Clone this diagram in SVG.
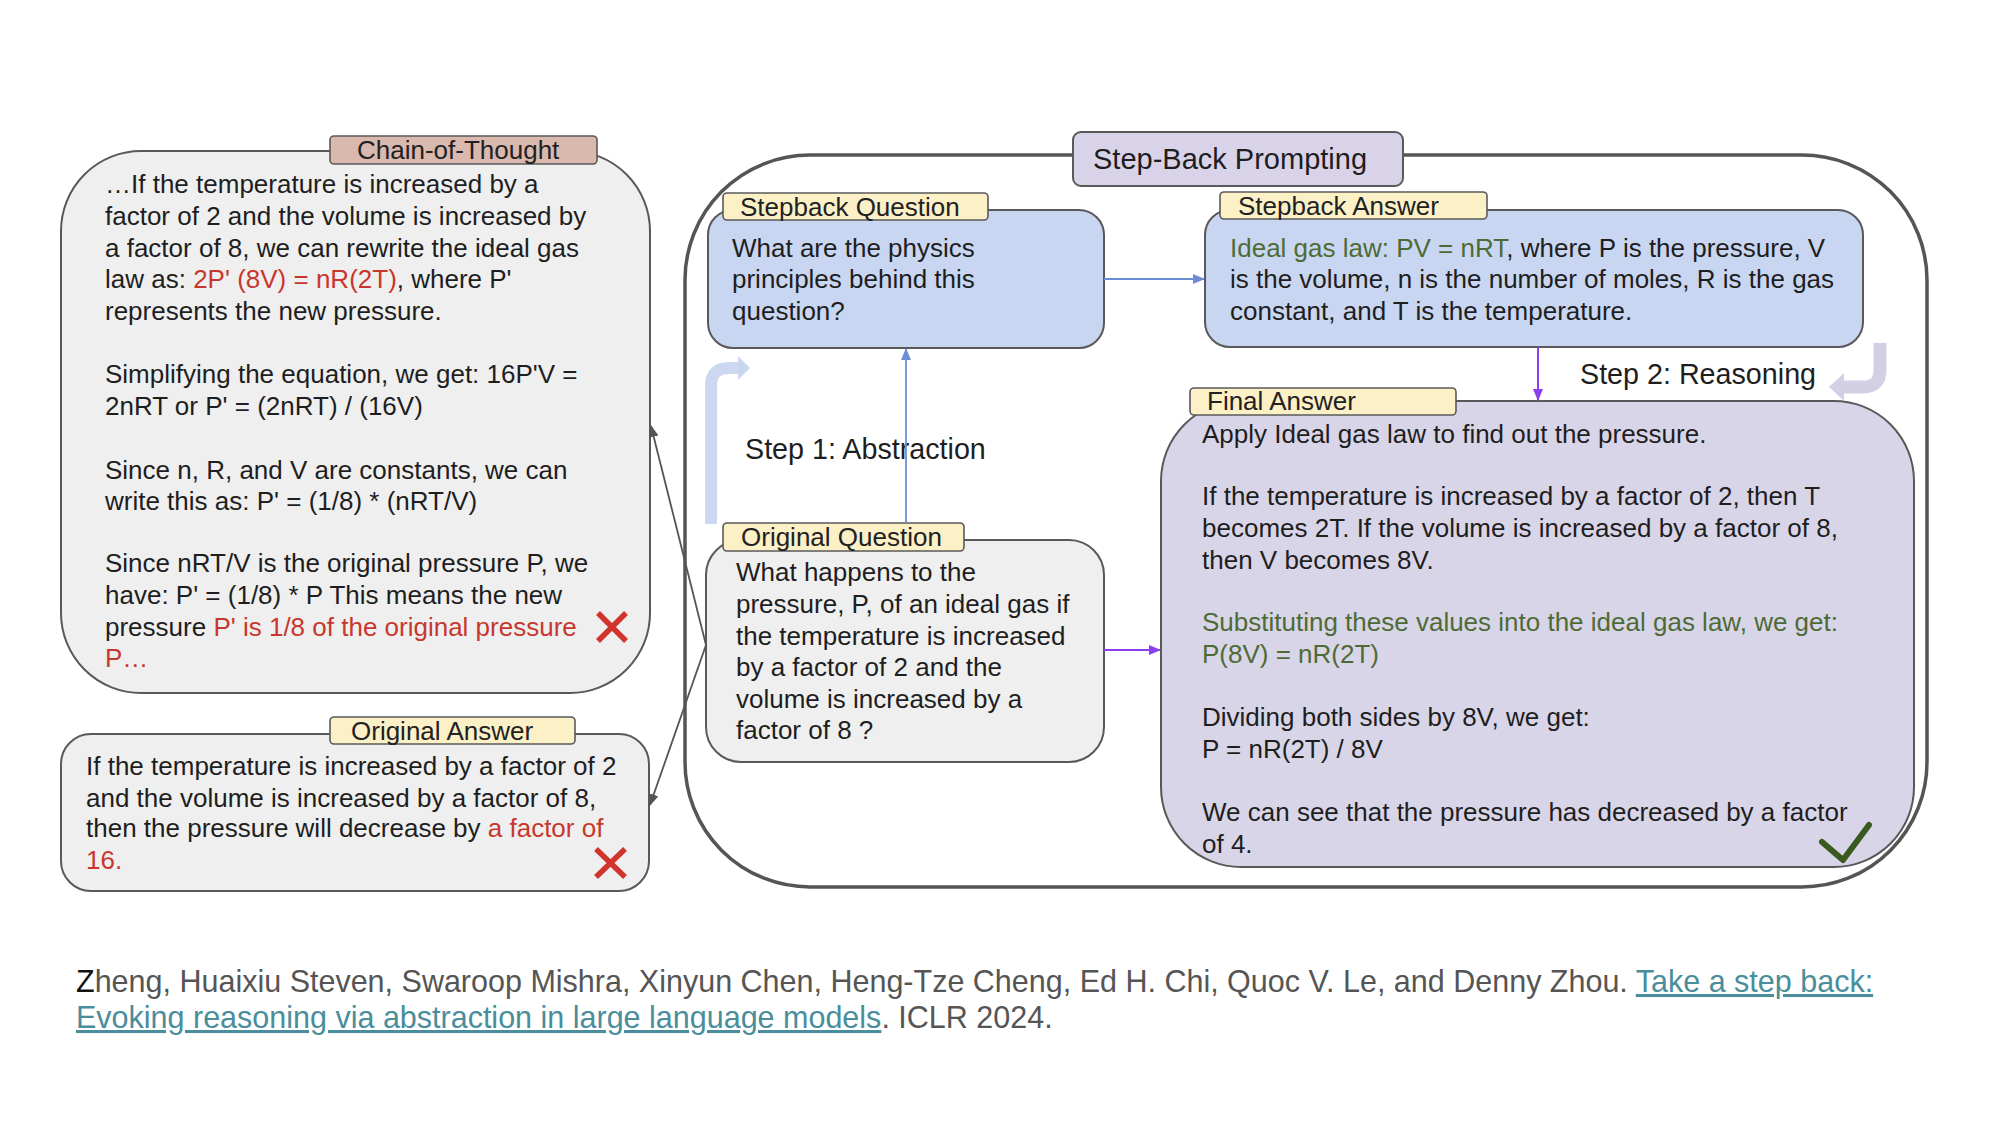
<svg xmlns="http://www.w3.org/2000/svg" width="2000" height="1125" viewBox="0 0 2000 1125">
<style>
text{font-family:"Liberation Sans",Arial,sans-serif;fill:#1e1e1e}
.b{font-size:26px}
.t{font-size:26px;fill:#222}
.s{font-size:28.7px}
.f{font-size:30.5px;fill:#555}
.red{fill:#c8372d}
.grn{fill:#4e6b35}
.lnk{fill:#4a8d9b;text-decoration:underline}
.box{stroke:#595959;stroke-width:2}
.tag{fill:#fcf0c7;stroke:#595959;stroke-width:1.6}
</style>
<defs>
<marker id="mb" markerUnits="userSpaceOnUse" markerWidth="12" markerHeight="10" refX="11" refY="5" orient="auto"><path d="M0,0 L12,5 L0,10 z" fill="#6d8ed4"/></marker>
<marker id="mp" markerUnits="userSpaceOnUse" markerWidth="12" markerHeight="10" refX="11" refY="5" orient="auto"><path d="M0,0 L12,5 L0,10 z" fill="#8b3ff0"/></marker>
<marker id="mg" markerUnits="userSpaceOnUse" markerWidth="12" markerHeight="10" refX="11" refY="5" orient="auto"><path d="M0,0 L12,5 L0,10 z" fill="#555"/></marker>
</defs>
<rect width="2000" height="1125" fill="#fff"/>

<g id="stepback-frame">
<rect x="685" y="155" width="1242" height="732" rx="125" fill="none" stroke="#555" stroke-width="3.5"/>
<rect x="1073" y="132" width="330" height="54" rx="8" fill="#d9d3e9" stroke="#595959" stroke-width="2"/>
<text x="1093" y="169" style="font-size:29px">Step-Back Prompting</text>
</g>

<g id="cot">
<rect class="box" x="61" y="151" width="589" height="542" rx="80" fill="#efefef"/>
<rect x="330" y="136" width="267" height="28" rx="4" fill="#d9b9ae" stroke="#595959" stroke-width="1.6"/>
<text class="t" x="357" y="159">Chain-of-Thought</text>
<text class="b" x="105" y="193">…If the temperature is increased by a</text>
<text class="b" x="105" y="225">factor of 2 and the volume is increased by</text>
<text class="b" x="105" y="257">a factor of 8, we can rewrite the ideal gas</text>
<text class="b" x="105" y="288">law as: <tspan class="red">2P' (8V) = nR(2T)</tspan>, where P'</text>
<text class="b" x="105" y="320">represents the new pressure.</text>
<text class="b" x="105" y="383">Simplifying the equation, we get: 16P'V =</text>
<text class="b" x="105" y="415">2nRT or P' = (2nRT) / (16V)</text>
<text class="b" x="105" y="479">Since n, R, and V are constants, we can</text>
<text class="b" x="105" y="510">write this as: P' = (1/8) * (nRT/V)</text>
<text class="b" x="105" y="572">Since nRT/V is the original pressure P, we</text>
<text class="b" x="105" y="604">have: P' = (1/8) * P This means the new</text>
<text class="b" x="105" y="636">pressure <tspan class="red">P' is 1/8 of the original pressure</tspan></text>
<text class="b red" x="105" y="667">P…</text>
<path d="M598,613 L626,641 M626,613 L598,641" stroke="#d0342c" stroke-width="5.5" fill="none"/>
</g>

<g id="original-answer">
<rect class="box" x="61" y="734" width="588" height="157" rx="30" fill="#efefef"/>
<rect class="tag" x="330" y="717" width="245" height="27" rx="4"/>
<text class="t" x="351" y="740">Original Answer</text>
<text class="b" x="86" y="775">If the temperature is increased by a factor of 2</text>
<text class="b" x="86" y="807">and the volume is increased by a factor of 8,</text>
<text class="b" x="86" y="837">then the pressure will decrease by <tspan class="red">a factor of</tspan></text>
<text class="b red" x="86" y="869">16.</text>
<path d="M596,849 L625,877 M625,849 L596,877" stroke="#d0342c" stroke-width="5.5" fill="none"/>
</g>

<g id="stepback-question">
<rect class="box" x="708" y="210" width="396" height="138" rx="25" fill="#c9d6f1"/>
<rect class="tag" x="723" y="193" width="265" height="27" rx="4"/>
<text class="t" x="740" y="216">Stepback Question</text>
<text class="b" x="732" y="257">What are the physics</text>
<text class="b" x="732" y="288">principles behind this</text>
<text class="b" x="732" y="320">question?</text>
</g>

<g id="stepback-answer">
<rect class="box" x="1205" y="210" width="658" height="137" rx="25" fill="#c9d6f1"/>
<rect class="tag" x="1220" y="192" width="267" height="27" rx="4"/>
<text class="t" x="1238" y="215">Stepback Answer</text>
<text class="b" x="1230" y="257"><tspan class="grn">Ideal gas law: PV = nRT</tspan>, where P is the pressure, V</text>
<text class="b" x="1230" y="288">is the volume, n is the number of moles, R is the gas</text>
<text class="b" x="1230" y="320">constant, and T is the temperature.</text>
</g>

<g id="original-question">
<rect class="box" x="706" y="540" width="398" height="222" rx="35" fill="#efefef"/>
<rect class="tag" x="723" y="523" width="241" height="28" rx="4"/>
<text class="t" x="741" y="546">Original Question</text>
<text class="b" x="736" y="581">What happens to the</text>
<text class="b" x="736" y="613">pressure, P, of an ideal gas if</text>
<text class="b" x="736" y="645">the temperature is increased</text>
<text class="b" x="736" y="676">by a factor of 2 and the</text>
<text class="b" x="736" y="708">volume is increased by a</text>
<text class="b" x="736" y="739">factor of 8 ?</text>
</g>

<g id="final-answer">
<rect class="box" x="1161" y="401" width="753" height="466" rx="80" fill="#d9d5e8"/>
<rect class="tag" x="1190" y="388" width="266" height="27" rx="4"/>
<text class="t" x="1207" y="410">Final Answer</text>
<text class="b" x="1202" y="443">Apply Ideal gas law to find out the pressure.</text>
<text class="b" x="1202" y="505">If the temperature is increased by a factor of 2, then T</text>
<text class="b" x="1202" y="537">becomes 2T. If the volume is increased by a factor of 8,</text>
<text class="b" x="1202" y="569">then V becomes 8V.</text>
<text class="b grn" x="1202" y="631">Substituting these values into the ideal gas law, we get:</text>
<text class="b grn" x="1202" y="663">P(8V) = nR(2T)</text>
<text class="b" x="1202" y="726">Dividing both sides by 8V, we get:</text>
<text class="b" x="1202" y="758">P = nR(2T) / 8V</text>
<text class="b" x="1202" y="821">We can see that the pressure has decreased by a factor</text>
<text class="b" x="1202" y="853">of 4.</text>
<polyline points="1822,842 1843,860 1869,825" fill="none" stroke="#3b5a1f" stroke-width="6" stroke-linecap="round" stroke-linejoin="round"/>
</g>

<g id="step-labels">
<text class="s" x="745" y="459">Step 1: Abstraction</text>
<text class="s" x="1580" y="384">Step 2: Reasoning</text>
</g>

<g id="connectors" fill="none">
<path d="M711,524 L711,386 Q711,368 729,368 L739,368" stroke="#c9d6f1" stroke-width="12" opacity="0.95"/>
<path d="M738,356 L750,368 L738,380 z" fill="#c9d6f1" stroke="none"/>
<path d="M1880,343 L1880,370 Q1880,387 1863,387 L1844,387" stroke="#d3d0e6" stroke-width="13"/>
<path d="M1844,373 L1829,387 L1844,401 z" fill="#d3d0e6" stroke="none"/>
<line x1="906" y1="523" x2="906" y2="349" stroke="#6d8ed4" stroke-width="1.8" marker-end="url(#mb)"/>
<line x1="1104" y1="279" x2="1204" y2="279" stroke="#6d8ed4" stroke-width="1.8" marker-end="url(#mb)"/>
<line x1="1104" y1="650" x2="1160" y2="650" stroke="#8b3ff0" stroke-width="2" marker-end="url(#mp)"/>
<line x1="1538" y1="347" x2="1538" y2="400" stroke="#8b3ff0" stroke-width="2" marker-end="url(#mp)"/>
<line x1="706" y1="645" x2="651" y2="426" stroke="#555" stroke-width="1.8" marker-end="url(#mg)"/>
<line x1="706" y1="645" x2="650" y2="805" stroke="#555" stroke-width="1.8" marker-end="url(#mg)"/>
</g>

<g id="citation">
<text class="f" x="76" y="992"><tspan style="fill:#111">Z</tspan>heng, Huaixiu Steven, Swaroop Mishra, Xinyun Chen, Heng-Tze Cheng, Ed H. Chi, Quoc V. Le, and Denny Zhou. <tspan class="lnk">Take a step back:</tspan></text>
<text class="f" x="76" y="1028"><tspan class="lnk">Evoking reasoning via abstraction in large language models</tspan>. ICLR 2024.</text>
</g>
</svg>
